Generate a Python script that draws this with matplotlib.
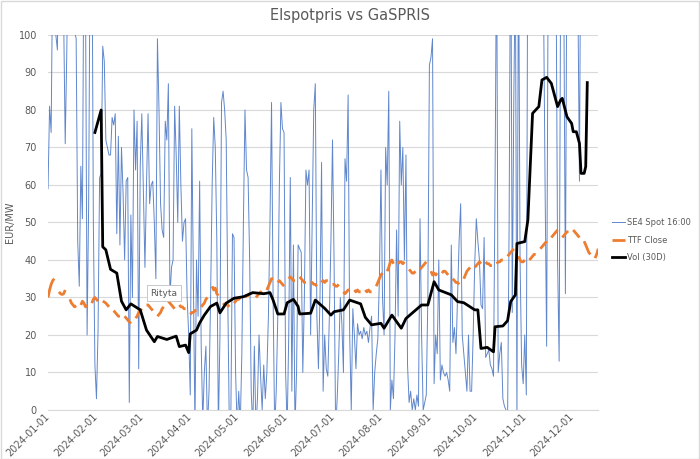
import numpy as np
import pandas as pd
import matplotlib
matplotlib.use("Agg")
import matplotlib.pyplot as plt
import matplotlib.dates as mdates
from matplotlib.patches import Rectangle

# SE4 spot 16:00, daily from 2024-01-01 (values outside 0-100 get clipped by the axis)
spot = [
    59, 81, 74, 120, 110, 100, 96, 130, 140, 120, 105, 71, 95, 130,
    120, 110, 140, 101, 99, 45, 33, 65, 51, 130, 110, 20, 55, 130,
    140, 50, 12, 3, 21, 62, 63, 97, 93, 72, 70, 68, 68, 78,
    76, 79, 47, 73, 44, 70, 58, 40, 61, 62, 2, 52, 30, 80,
    64, 77, 11, 65, 79, 59, 38, 60, 79, 55, 60, 61, 50, 35,
    99, 80, 55, 48, 46, 77, 72, 87, 30, 38, 40, 81, 68, 50,
    81, 60, 45, 50, 51, 30, 20, 4, 75, 35, -5, 40, 25, 61,
    17, -3, 10, 17, -5, 5, 30, 60, 78, 70, 45, -5, 20, 82,
    85, 80, 72, 30, -5, 0, 47, 46, 10, -5, 5, -4, 15, 50,
    80, 64, 62, 40, 5, -5, 17, -5, 3, 20, 9, 0, 12, 3,
    10, 25, 50, 82, 30, -5, 5, 25, 60, 82, 75, 74, 10, -5,
    20, 62, 5, 44, -5, 10, 44, 43, 42, 10, 30, 64, 60, 64,
    20, 50, 80, 87, 25, 11, 30, 66, 5, 20, 11, 9, 25, 45,
    72, 40, -5, 3, 15, 30, 23, 10, 67, 61, 84, 20, 0, 27,
    20, 11, 23, 20, 21, 19, 22, 20, 21, 18, 22, 25, 0, 10,
    15, 19, 35, 64, 30, 20, 70, 60, 85, 0, 8, 3, 20, 48,
    25, 77, 60, 70, 40, 68, 12, 2, 5, 0, 3, 0, 4, 1,
    51, 20, 0, 2, 4, 30, 92, 94, 99, 7, 20, 15, 40, 8,
    12, 10, 9, 10, 8, 5, 44, 18, 22, 15, 30, 45, 55, 20,
    15, 10, 5, 20, 5, 5, 20, 39, 51, 45, 40, 28, 27, 46,
    14, 15, 16, 12, 11, 9, 60, 130, 10, 15, 18, 3, 1, 0,
    -3, 50, 140, 26, 83, 120, -3, 130, 40, 12, 7, 20, 4, 140,
    180, 220, 160, 200, 150, 170, 130, 160, 140, 110, 60, 17, 120, 150,
    130, 110, 160, 120, 40, 13, 120, 140, 110, 31, 130, 150, 120, 110,
    160, 130, 140, 110, 61, 150, 120, 130, 115,
]

# TTF close, trading days (Mon-Fri) from 2024-01-01
ttf = [
    30, 32, 33.5, 34.5, 35,   31.5, 31, 30.8, 31, 32,   29.5, 28.5, 28, 27.5, 27.8,
    28, 29, 28.5, 27.5, 28,   28.5, 29.5, 30, 29.5, 29,   29, 28.8, 28.5, 28, 27.5,
    26.5, 26, 25.5, 25, 25,   25, 24.5, 24, 23.5, 23,   24.5, 25, 26, 26.5, 27,
    28, 28, 27.5, 27, 26.5,   25, 25.5, 26, 27, 27.5,   29, 28.5, 28, 27.5, 27,
    28, 27.5, 27.5, 27, 27,   25.5, 26, 26, 26.5, 26.5,   27.5, 28, 28.5, 29.5, 30,
    33, 32, 32.5, 31, 30.5,   28.5, 28, 28, 28, 27.5,   28.5, 29, 29.5, 29.5, 30,
    30, 30.5, 30.5, 31, 31,   30, 30.5, 31, 31.5, 31,   32, 33, 34, 35, 35,
    34, 34.5, 34, 33.5, 33,   35, 35.5, 35, 34.5, 34.5,   35.5, 35, 34.5, 34, 34,
    34, 34, 33.5, 33.5, 33,   34, 34.5, 34, 34.5, 34.5,   33.5, 33.5, 33, 33, 33.5,
    31.5, 31, 31.5, 32, 32,   32, 31.5, 32, 31.5, 31.5,   32, 31.5, 32, 31.5, 31.5,
    33, 34, 35, 36, 36.5,   37, 38, 39.5, 40, 39,   39, 39.5, 39.5, 39, 39.5,
    37.5, 37, 36.5, 36.5, 37,   37.5, 38, 38.5, 39, 39.5,   37, 36, 36.5, 36, 36.5,
    36.5, 37, 37, 36.5, 36,   35, 34.5, 34, 34, 33.5,   35, 36, 37, 37.5, 38,
    38, 38.5, 39, 39.5, 39,   39.5, 39, 39, 38.5, 38.5,   39, 39.5, 39.5, 40, 40,
    41, 41.5, 42, 42.5, 43,   41, 40, 39.5, 39.5, 40,   40, 40.5, 41, 41.5, 41.5,
    43, 43.5, 44, 44.5, 45,   46, 46.5, 47, 47.5, 48,   46, 46.5, 47, 47.5, 47.5,
    48, 47.5, 47, 46.5, 46,   45, 44, 43, 42, 41.5,   40.5, 41.5, 43,
]

# Vol (30D): day number since 2024-01-01 and value
vol_day = [
    30, 34, 35, 37, 40, 44, 47, 50, 53, 59, 63, 68, 70, 76, 82, 84, 88, 90, 91, 95,
    97, 100, 104, 108, 110, 114, 119, 125, 131, 138, 142, 144, 147, 151, 153, 157,
    160, 161, 168, 171, 177, 181, 183, 189, 193, 200, 203, 207, 213, 215, 220, 226,
    229, 239, 243, 247, 250, 258, 262, 266, 273, 275, 277, 281, 285, 286, 291, 294,
    296, 299, 300, 305, 307, 310, 314, 316, 319, 322, 326, 328, 329, 332, 335, 336,
    338, 340, 341, 343, 344, 345,
]
vol = [
    74, 80, 43.5, 42.7, 37.5, 36.5, 29, 26.7, 28.3, 26.7, 21.3, 18.2, 19.6, 18.8, 19.7,
    16.9, 17.3, 15.3, 20.3, 21.3, 23.2, 25.3, 27.6, 28.5, 25.9, 28.5, 29.8, 30.2, 31.3,
    31, 31.3, 29.3, 25.6, 25.6, 28.6, 29.5, 27.6, 25.6, 25.8, 29.3, 27.1, 25.3, 26.2,
    26.7, 29.3, 28.3, 24.7, 22.7, 23.1, 21.8, 25.3, 21.8, 24.4, 28, 28, 34.2, 32, 30.7,
    28.9, 28.6, 26.7, 26.7, 16.4, 16.7, 15.5, 22.2, 22.4, 23.8, 28.9, 30.7, 44.4, 44.9,
    50.7, 79.1, 80.9, 88, 88.7, 87.1, 80.9, 82.7, 83.1, 78.2, 76.4, 74.2, 74.2, 71.1,
    63.1, 63.1, 64.9, 87.3,
]

start = pd.Timestamp("2024-01-01")
spot_s = pd.Series(spot, index=pd.date_range(start, periods=len(spot), freq="D"))
ttf_s = pd.Series(ttf, index=pd.bdate_range(start, periods=len(ttf)))
ttf_s = ttf_s.reindex(pd.date_range(start, ttf_s.index[-1], freq="D"))  # weekends -> gaps
vol_s = pd.Series(vol, index=start + pd.to_timedelta(vol_day, unit="D"))

grey = "#595959"
fig = plt.figure(figsize=(7, 4.59), dpi=100)
ax = fig.add_axes([0.0686, 0.1068, 0.786, 0.817])

ax.plot(spot_s.index, spot_s.values, color="#4472C4", lw=0.7, alpha=0.85,
        label="SE4 Spot 16:00")
ax.plot(ttf_s.index, ttf_s.values, color="#ED7D31", lw=2.0, solid_capstyle="butt",
        label="TTF Close")
ax.plot(vol_s.index, vol_s.values, color="black", lw=2.0, label="Vol (30D)")

ax.set_ylim(0, 100)
ax.set_xlim(start, pd.Timestamp("2024-12-18"))
ax.set_yticks(np.arange(0, 101, 10))
ax.xaxis.set_major_locator(mdates.MonthLocator())
ax.xaxis.set_major_formatter(mdates.DateFormatter("%Y-%m-%d"))
ax.grid(axis="y", color="#d9d9d9", lw=0.8)
ax.set_axisbelow(True)
for s in ["top", "right", "left"]:
    ax.spines[s].set_visible(False)
ax.spines["bottom"].set_color("#d9d9d9")
ax.tick_params(axis="both", length=0, colors=grey, labelsize=7)
ax.tick_params(axis="y", pad=8)
for lab in ax.get_xticklabels():
    lab.set_rotation(45)
    lab.set_ha("right")
    lab.set_va("center")
    lab.set_rotation_mode("anchor")

ax.set_ylabel("EUR/MW", color=grey, fontsize=7)
ax.yaxis.set_label_coords(-0.06, 0.5)
fig.text(0.5, 0.967, "Elspotpris vs GaSPRIS", ha="center", va="center",
         color=grey, fontsize=10.5)

fig.legend(loc="center left", bbox_to_anchor=(0.874, 0.477), frameon=False,
           fontsize=6, labelcolor=grey, handlelength=1.6, handletextpad=0.2,
           labelspacing=1.0, borderaxespad=0, borderpad=0)

fig.text(164 / 700, 1 - 293 / 459, "Rityta", ha="center", va="center", fontsize=6.5,
         color=grey, bbox=dict(boxstyle="square,pad=0.35", fc="white", ec="#bfbfbf", lw=0.6))

fig.patches.append(Rectangle((0.001, 0.001), 0.998, 0.997, transform=fig.transFigure,
                             fill=False, ec="#d9d9d9", lw=1))

plt.savefig("out.png", dpi=100)
